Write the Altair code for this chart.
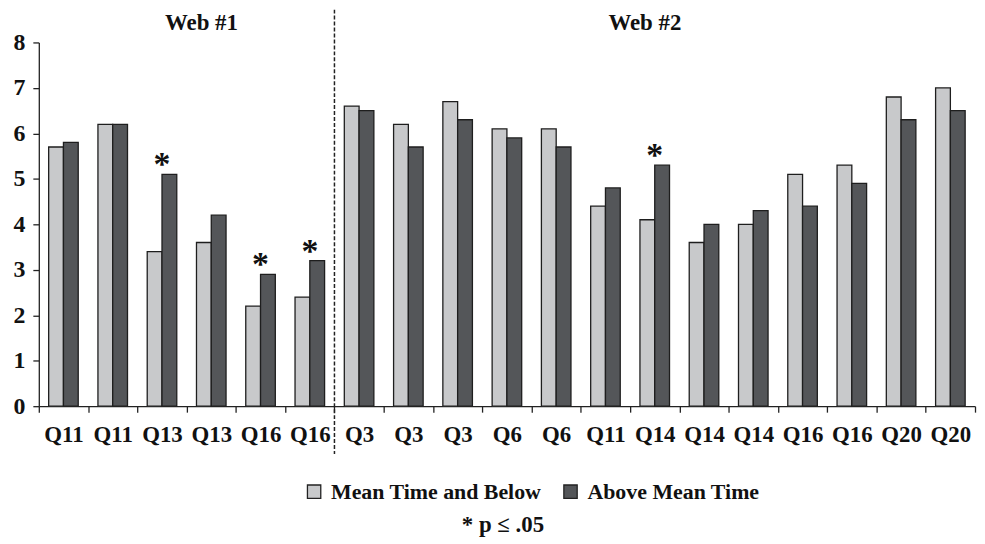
import altair as alt
import pandas as pd

labels = ["Q11", "Q11", "Q13", "Q13", "Q16", "Q16",
          "Q3", "Q3", "Q3", "Q6", "Q6", "Q11", "Q14", "Q14", "Q14", "Q16", "Q16", "Q20", "Q20"]
below = [5.7, 6.2, 3.4, 3.6, 2.2, 2.4,
         6.6, 6.2, 6.7, 6.1, 6.1, 4.4, 4.1, 3.6, 4.0, 5.1, 5.3, 6.8, 7.0]
above = [5.8, 6.2, 5.1, 4.2, 2.9, 3.2,
         6.5, 5.7, 6.3, 5.9, 5.7, 4.8, 5.3, 4.0, 4.3, 4.4, 4.9, 6.3, 6.5]
significant = [False, False, True, False, True, True,
               False, False, False, False, False, False, True, False, False, False, False, False, False]
series = ["Mean Time and Below", "Above Mean Time"]
colors = ["#c8c9cb", "#545659"]
groups = ["Web #1", "Web #2"]
group_title_at = [3, 12]
separator_at = 6
note = "* p \u2264 .05"

FONT = "Liberation Serif, Times New Roman, serif"
W, H = 942, 366

keys = [f"{i:02d}|{l}" for i, l in enumerate(labels)]

rows = []
for k, b, a in zip(keys, below, above):
    rows.append({"key": k, "series": series[0], "value": b})
    rows.append({"key": k, "series": series[1], "value": a})
df = pd.DataFrame(rows)

stars = pd.DataFrame([{"key": k, "value": a} for k, a, s in zip(keys, above, significant) if s])
sep = pd.DataFrame([{"key": keys[separator_at]}])
titles = pd.DataFrame([{"key": keys[i], "t": g} for i, g in zip(group_title_at, groups)])
notes = pd.DataFrame([{"t": note}])

xscale = alt.Scale(domain=keys, paddingInner=0, paddingOuter=0)

bars = alt.Chart(df).mark_bar(stroke="#1e1e1e", strokeWidth=1.3).encode(
    x=alt.X("key:N", scale=xscale, sort=keys,
            axis=alt.Axis(title=None, labelExpr="split(datum.value,'|')[1]", labelAngle=0,
                          tickBand="extent", labelFont=FONT, labelFontSize=23,
                          labelFontWeight="bold", labelColor="#111", domainColor="#222",
                          tickColor="#222", tickSize=6, labelPadding=12, domainWidth=1.3,
                          tickWidth=1.3)),
    xOffset=alt.XOffset("series:N", scale=alt.Scale(domain=series, paddingInner=0, paddingOuter=0.667)),
    y=alt.Y("value:Q", scale=alt.Scale(domain=[0, 8], nice=False),
            axis=alt.Axis(title=None, values=list(range(9)), grid=False, labelFont=FONT,
                          labelFontSize=24, labelFontWeight="bold", labelColor="#111",
                          domainColor="#222", tickColor="#222", tickSize=6, labelPadding=8,
                          domainWidth=1.3, tickWidth=1.3)),
    color=alt.Color("series:N", scale=alt.Scale(domain=series, range=colors),
                    legend=alt.Legend(title=None, orient="none", legendX=266, legendY=441,
                                      direction="horizontal", symbolType="square",
                                      symbolSize=180, symbolStrokeColor="#222",
                                      symbolStrokeWidth=1.3, labelFont=FONT, labelFontSize=22,
                                      labelFontWeight="bold", labelColor="#111", labelLimit=0,
                                      columnPadding=18, padding=0, labelOffset=6)),
)

star_marks = alt.Chart(stars).mark_text(text="*", font=FONT, fontSize=34, fontWeight="bold",
                                        baseline="alphabetic", dy=1, color="#111").encode(
    x=alt.X("key:N", scale=xscale, sort=keys),
    y=alt.Y("value:Q"),
)

rule = alt.Chart(sep).mark_rule(strokeDash=[4, 2], color="#222", strokeWidth=1.5).encode(
    x=alt.X("key:N", scale=xscale, sort=keys, bandPosition=0),
    y=alt.value(-33), y2=alt.value(414),
)

group_titles = alt.Chart(titles).mark_text(font=FONT, fontSize=23, fontWeight="bold",
                                           baseline="middle", color="#111").encode(
    x=alt.X("key:N", scale=xscale, sort=keys, bandPosition=0.3),
    y=alt.value(-20),
    text="t:N",
)

note_mark = alt.Chart(notes).mark_text(font=FONT, fontSize=23, fontWeight="bold",
                                       baseline="middle", color="#111").encode(
    x=alt.value(467), y=alt.value(486), text="t:N",
)

chart = alt.layer(bars, star_marks, rule, group_titles, note_mark).properties(
    width=W, height=H,
    autosize=alt.AutoSizeParams(type="none"),
    padding={"left": 31, "top": 33, "right": 2, "bottom": 135},
    background="white",
).configure_view(stroke=None)

chart.save("out.html", embed_options={"renderer": "svg", "actions": False})
